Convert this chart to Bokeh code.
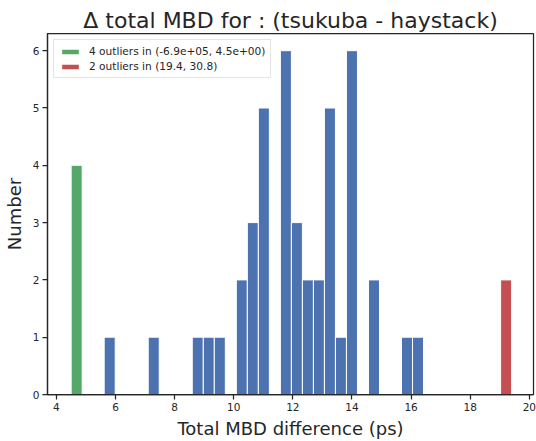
from bokeh.plotting import figure
from bokeh.models import Range1d, FixedTicker, Legend, LegendItem
from bokeh.embed import file_html
from bokeh.resources import INLINE

# Histogram definition
bin_lo = 4.5
bin_hi = 19.4
n_bins = 40
# counts for the 40 bins between bin_lo and bin_hi (blue = inliers)
counts = [0, 0, 0, 1, 0, 0, 0, 1, 0, 0,
          0, 1, 1, 1, 0, 2, 3, 5, 0, 6,
          3, 2, 2, 5, 1, 6, 0, 2, 0, 0,
          1, 1, 0, 0, 0, 0, 0, 0, 0, 0]
low_outlier_count = 4
high_outlier_count = 2
low_label = "4 outliers in (-6.9e+05, 4.5e+00)"
high_label = "2 outliers in (19.4, 30.8)"
x_ticks = [4, 6, 8, 10, 12, 14, 16, 18, 20]
y_ticks = [0, 1, 2, 3, 4, 5, 6]

width_bin = (bin_hi - bin_lo) / n_bins
centers = [bin_lo + (i + 0.5) * width_bin for i in range(n_bins)]
bx = [c for c, n in zip(centers, counts) if n > 0]
by = [n for n in counts if n > 0]

TXT = "#262626"
FONT = "DejaVu Sans"

p = figure(width=536, height=441, output_backend="svg", toolbar_location=None,
           x_range=Range1d(3.70, 20.14), y_range=Range1d(0, 6.3),
           min_border_left=47, min_border_right=3, min_border_top=33, min_border_bottom=45)

p.vbar(x=bx, top=by, width=width_bin, fill_color="#4C72B0", line_color="white", line_width=1)
g = p.vbar(x=[centers[0]], top=[low_outlier_count], width=width_bin,
           fill_color="#55A868", line_color="white", line_width=1)
r = p.vbar(x=[centers[-1]], top=[high_outlier_count], width=width_bin,
           fill_color="#C44E52", line_color="white", line_width=1)

legend = Legend(items=[LegendItem(label=low_label, renderers=[g]),
                       LegendItem(label=high_label, renderers=[r])],
                location="top_left")
legend.label_text_font = FONT
legend.label_text_font_size = "10.6px"
legend.label_text_color = TXT
legend.glyph_width = 22
legend.glyph_height = 7
legend.label_height = 12
legend.label_standoff = 8
legend.spacing = 3
legend.padding = 5
legend.margin = 6
legend.border_line_color = "#cccccc"
legend.border_line_width = 1
legend.background_fill_alpha = 0.8
p.add_layout(legend)

p.title.text = "\u0394 total MBD for : (tsukuba - haystack)"
p.title.align = "center"
p.title.text_font = FONT
p.title.text_font_size = "22px"
p.title.text_font_style = "normal"
p.title.text_color = TXT
p.title.standoff = 2

p.xgrid.visible = False
p.ygrid.visible = False
p.outline_line_color = TXT
p.outline_line_width = 1.25
p.background_fill_color = "white"

for ax, ticks in ((p.xaxis, x_ticks), (p.yaxis, y_ticks)):
    ax.ticker = FixedTicker(ticks=ticks)
    ax.axis_line_color = TXT
    ax.axis_line_width = 1.25
    ax.major_tick_line_color = TXT
    ax.major_tick_line_width = 1.25
    ax.major_tick_in = 0
    ax.major_tick_out = 5
    ax.minor_tick_line_color = None
    ax.major_label_text_font = FONT
    ax.major_label_text_font_size = "10.5px"
    ax.major_label_text_color = TXT
    ax.major_label_standoff = 3
    ax.axis_label_text_font = FONT
    ax.axis_label_text_font_size = "18px"
    ax.axis_label_text_font_style = "normal"
    ax.axis_label_text_color = TXT

p.xaxis.axis_label = "Total MBD difference (ps)"
p.yaxis.axis_label = "Number"
p.xaxis.axis_label_standoff = 4
p.yaxis.axis_label_standoff = 5

open("out.html", "w").write(file_html(p, INLINE))
